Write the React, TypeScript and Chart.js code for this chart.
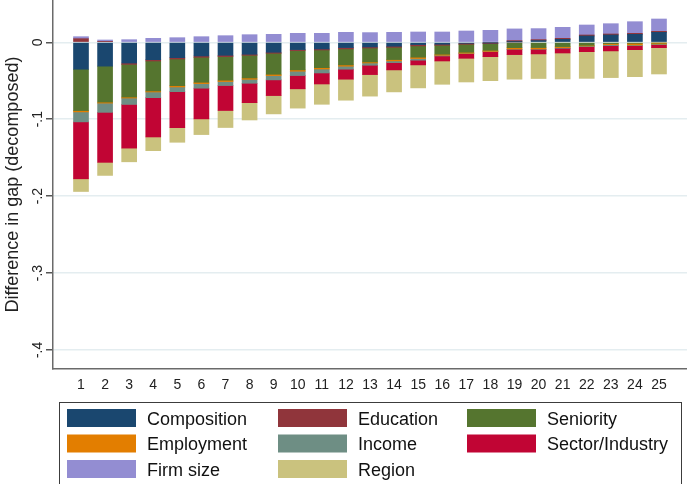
import { useEffect, useRef } from 'react';
import { Chart, registerables } from 'chart.js';

Chart.register(...registerables);

const categories = [1, 2, 3, 4, 5, 6, 7, 8, 9, 10, 11, 12, 13, 14, 15, 16, 17, 18, 19, 20, 21, 22, 23, 24, 25];

const composition = [-0.035, -0.031, -0.027, -0.0226, -0.02, -0.0178, -0.0169, -0.0156, -0.013, -0.0095, -0.0087, -0.0069, -0.0061, -0.0052, -0.003, -0.0026, -0.0013, -0.0005, 0.0005, 0.0022, 0.0039, 0.0082, 0.0095, 0.0104, 0.013];
const education = [0.0047, 0.0013, -0.0017, -0.0017, -0.0017, -0.0017, -0.0017, -0.0013, -0.0013, -0.0013, -0.0013, -0.0017, -0.0013, -0.0013, -0.0017, -0.0013, -0.0013, -0.0013, 0.0017, 0.0013, 0.0013, 0.0013, 0.0013, 0.0013, 0.0013];
const seniority = [-0.0538, -0.0468, -0.0425, -0.039, -0.0347, -0.0325, -0.0307, -0.0295, -0.0273, -0.0251, -0.023, -0.0208, -0.0182, -0.016, -0.0147, -0.0117, -0.0104, -0.0087, -0.007, -0.0069, -0.0056, -0.0039, -0.0017, -0.0013, -0.0009];
const employment = [-0.0017, -0.0013, -0.0013, -0.0013, -0.0017, -0.0017, -0.0017, -0.0017, -0.0017, -0.0017, -0.0017, -0.0017, -0.0013, -0.0017, -0.0017, -0.0013, -0.0013, -0.0013, -0.0017, -0.0017, -0.0013, -0.0009, -0.0013, -0.0022, -0.0013];
const income = [-0.013, -0.012, -0.0083, -0.0074, -0.0061, -0.006, -0.0052, -0.0052, -0.0056, -0.0056, -0.0052, -0.0039, -0.003, -0.0022, -0.0022, -0.0009, -0.0004, -0.0004, -0.0004, -0.0005, -0.0009, -0.0009, -0.0013, -0.0009, -0.0009];
const sectorIndustry = [-0.074, -0.065, -0.0568, -0.0511, -0.0468, -0.0399, -0.0325, -0.0252, -0.0204, -0.0173, -0.0143, -0.013, -0.0121, -0.0095, -0.0061, -0.0065, -0.0061, -0.0065, -0.0069, -0.006, -0.0061, -0.0065, -0.0069, -0.0052, -0.0039];
const firmSize = [0.0026, 0.0017, 0.0034, 0.0052, 0.006, 0.0073, 0.0086, 0.0099, 0.0104, 0.0117, 0.0117, 0.013, 0.0126, 0.013, 0.0134, 0.0134, 0.0147, 0.0156, 0.0152, 0.0143, 0.0143, 0.013, 0.0134, 0.0151, 0.016];
const region = [-0.0165, -0.017, -0.0178, -0.0178, -0.019, -0.0204, -0.0221, -0.0225, -0.0238, -0.0251, -0.0264, -0.0273, -0.028, -0.0286, -0.0299, -0.0303, -0.0308, -0.0312, -0.032, -0.032, -0.0338, -0.0347, -0.0347, -0.0351, -0.0342];

const seriesLabels = ['Composition', 'Education', 'Seniority', 'Employment', 'Income', 'Sector/Industry', 'Firm size', 'Region'];
const seriesColors = ['#1a476f', '#90353b', '#55752f', '#e37e00', '#6e8e84', '#c10534', '#938dd2', '#cac27e'];

const yTickValues = [0, -0.1, -0.2, -0.3, -0.4];
const yTickLabels = ['0', '-.1', '-.2', '-.3', '-.4'];
const yTitle = 'Difference in gap (decomposed)';

const FONT = '"Liberation Sans", Arial, sans-serif';

export default function App() {
  const ref = useRef<HTMLCanvasElement>(null);

  useEffect(() => {
    document.body.style.margin = '0';
    const series = [composition, education, seniority, employment, income, sectorIndustry, firmSize, region];

    const legendPlugin = {
      id: 'gridLegend',
      afterDraw(chart: any) {
        const ctx = chart.ctx as CanvasRenderingContext2D;
        ctx.save();
        ctx.strokeStyle = '#3c3c3c';
        ctx.lineWidth = 1;
        ctx.strokeRect(59.5, 402.5, 622, 100);
        const colX = [67, 278, 467];
        const rowY = [409, 434.5, 460];
        ctx.font = `18px ${FONT}`;
        ctx.textBaseline = 'alphabetic';
        ctx.textAlign = 'left';
        chart.data.datasets.forEach((ds: any, i: number) => {
          const c = i % 3;
          const r = Math.floor(i / 3);
          ctx.fillStyle = ds.backgroundColor;
          ctx.fillRect(colX[c], rowY[r], 69, 18);
          ctx.fillStyle = '#111';
          ctx.fillText(ds.label, colX[c] + 80, rowY[r] + 15.5);
        });
        ctx.restore();
      },
    };

    const chart = new Chart(ref.current as HTMLCanvasElement, {
      type: 'bar',
      data: {
        datasets: series.map((vals, i) => ({
          label: seriesLabels[i],
          data: categories.map((c, j) => ({ x: c, y: vals[j] })),
          backgroundColor: seriesColors[i],
          borderWidth: 0,
          barThickness: 15,
        })),
      },
      options: {
        responsive: false,
        animation: false,
        layout: { padding: 0 },
        plugins: { legend: { display: false }, tooltip: { enabled: false } },
        scales: {
          x: {
            type: 'linear',
            stacked: true,
            offset: false,
            min: -0.1626,
            max: 26.163,
            afterBuildTicks: (s: any) => {
              s.ticks = categories.map((v) => ({ value: v }));
            },
            afterFit: (s: any) => {
              s.height = 115;
              s.paddingLeft = 0;
              s.paddingRight = 0;
            },
            ticks: {
              autoSkip: false,
              maxRotation: 0,
              padding: 8,
              color: '#222',
              font: { family: FONT, size: 14 },
              callback: (v: any) => String(v),
            },
            grid: { display: false, drawTicks: false, offset: false },
            border: { display: true, color: '#6a6a6a', width: 1.5 },
          },
          y: {
            stacked: true,
            min: -0.4248,
            max: 0.055,
            afterBuildTicks: (s: any) => {
              s.ticks = yTickValues.map((v) => ({ value: v }));
            },
            afterFit: (s: any) => {
              s.width = 53;
              s.paddingTop = 0;
              s.paddingBottom = 0;
            },
            ticks: {
              minRotation: 90,
              maxRotation: 90,
              crossAlign: 'center',
              padding: 0,
              color: '#222',
              font: { family: FONT, size: 14 },
              callback: (v: any) => {
                const idx = yTickValues.findIndex((t) => Math.abs(t - v) < 1e-9);
                return idx >= 0 ? yTickLabels[idx] : '';
              },
            },
            grid: { color: '#e4edf0', lineWidth: 1.5, tickColor: '#555', tickLength: 7, tickWidth: 1.5 },
            border: { display: true, color: '#6a6a6a', width: 1.5 },
            title: {
              display: true,
              text: yTitle,
              color: '#222',
              font: { family: FONT, size: 18 },
              padding: { top: 2, bottom: 0 },
            },
          },
        },
      } as any,
      plugins: [legendPlugin],
    });
    return () => chart.destroy();
  }, []);

  return <canvas ref={ref} width={687} height={484} style={{ display: 'block' }} />;
}
